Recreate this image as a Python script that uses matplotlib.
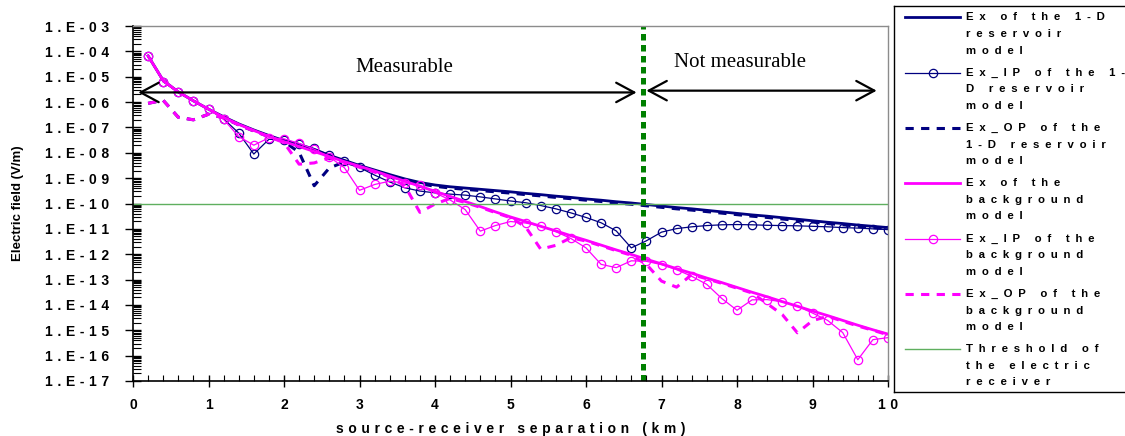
import matplotlib
matplotlib.use("Agg")
import matplotlib.pyplot as plt
import numpy as np
from matplotlib.ticker import FixedLocator, FuncFormatter, LogLocator, MultipleLocator

SANS = ["Liberation Sans", "DejaVu Sans"]
SERIF = ["Liberation Serif", "DejaVu Serif"]
plt.rcParams["font.family"] = SANS
plt.rcParams["font.weight"] = "bold"

# source-receiver offsets (km)
offset_km = [0.2, 0.4, 0.6, 0.8, 1.0, 1.2, 1.4, 1.6, 1.8, 2.0,
             2.2, 2.4, 2.6, 2.8, 3.0, 3.2, 3.4, 3.6, 3.8, 4.0,
             4.2, 4.4, 4.6, 4.8, 5.0, 5.2, 5.4, 5.6, 5.8, 6.0,
             6.2, 6.4, 6.6, 6.8, 7.0, 7.2, 7.4, 7.6, 7.8, 8.0,
             8.2, 8.4, 8.6, 8.8, 9.0, 9.2, 9.4, 9.6, 9.8, 10.0]

# log10 of |E| in V/m
ex_reservoir = [-4.18, -5.15, -5.6, -5.95, -6.28, -6.58, -6.86, -7.1, -7.32, -7.52,
                -7.72, -7.9, -8.1, -8.3, -8.5, -8.68, -8.86, -9.03, -9.17, -9.27,
                -9.34, -9.39, -9.44, -9.49, -9.54, -9.6, -9.65, -9.71, -9.76, -9.82,
                -9.87, -9.93, -9.98, -10.04, -10.1, -10.16, -10.21, -10.27, -10.33, -10.39,
                -10.45, -10.5, -10.56, -10.62, -10.68, -10.74, -10.79, -10.85, -10.9, -10.95]
ip_reservoir = [-4.18, -5.2, -5.62, -5.95, -6.28, -6.66, -7.22, -8.05, -7.47, -7.48,
                -7.64, -7.83, -8.07, -8.33, -8.58, -8.88, -9.15, -9.38, -9.51, -9.58,
                -9.63, -9.67, -9.74, -9.82, -9.9, -9.97, -10.08, -10.21, -10.37, -10.55,
                -10.76, -11.08, -11.75, -11.47, -11.13, -10.99, -10.92, -10.87, -10.84, -10.83,
                -10.84, -10.86, -10.87, -10.88, -10.9, -10.92, -10.95, -10.97, -11.0, -11.03]
op_reservoir = [-6.05, -5.93, -6.6, -6.7, -6.48, -6.62, -6.9, -7.14, -7.36, -7.56,
                -7.98, -9.3, -8.6, -8.36, -8.55, -8.73, -8.91, -9.08, -9.22, -9.32,
                -9.39, -9.44, -9.49, -9.54, -9.59, -9.65, -9.7, -9.76, -9.81, -9.87,
                -9.92, -9.98, -10.03, -10.09, -10.15, -10.21, -10.26, -10.32, -10.38, -10.44,
                -10.5, -10.55, -10.61, -10.67, -10.73, -10.79, -10.84, -10.9, -10.95, -11.0]
ex_background = [-4.18, -5.15, -5.6, -5.95, -6.28, -6.6, -6.88, -7.12, -7.35, -7.56,
                 -7.75, -7.95, -8.15, -8.35, -8.53, -8.72, -8.92, -9.12, -9.32, -9.52,
                 -9.72, -9.92, -10.12, -10.33, -10.53, -10.71, -10.9, -11.08, -11.27, -11.45,
                 -11.64, -11.83, -12.01, -12.2, -12.38, -12.57, -12.75, -12.94, -13.12, -13.31,
                 -13.5, -13.68, -13.87, -14.05, -14.24, -14.42, -14.61, -14.8, -14.98, -15.15]
ip_background = [-4.18, -5.2, -5.62, -5.95, -6.28, -6.68, -7.36, -7.7, -7.41, -7.45,
                 -7.63, -7.86, -8.16, -8.59, -9.48, -9.25, -9.12, -9.19, -9.28, -9.58,
                 -9.86, -10.24, -11.09, -10.87, -10.71, -10.77, -10.89, -11.11, -11.38, -11.75,
                 -12.4, -12.53, -12.26, -12.28, -12.41, -12.61, -12.87, -13.19, -13.75, -14.21,
                 -13.8, -13.79, -13.88, -14.05, -14.32, -14.61, -15.09, -16.16, -15.37, -15.29]
op_background = [-6.05, -5.93, -6.6, -6.7, -6.48, -6.62, -6.9, -7.14, -7.37, -7.6,
                 -8.45, -8.4, -8.2, -8.38, -8.57, -8.76, -8.96, -9.3, -10.35, -10.02,
                 -9.8, -9.96, -10.15, -10.36, -10.56, -10.92, -11.8, -11.65, -11.35, -11.48,
                 -11.67, -11.86, -12.04, -12.4, -13.06, -13.3, -12.8, -12.97, -13.15, -13.34,
                 -13.53, -13.95, -14.38, -15.1, -14.62, -14.45, -14.64, -14.83, -15.0, -15.18]

threshold = 1e-10          # receiver noise floor (V/m)
limit_km = 6.75            # offset where the reservoir response drops below it

NAVY = "#000080"
MAGENTA = "#FF00FF"
GREEN_T = "#5FAF5F"
TICK_SEP = "\u2004"
LEGEND_SEP = "\u2002"


def spaced(text, sep):
    return sep.join(text)


styles = {
    "ex_res": dict(color=NAVY, lw=2.0),
    "ip_res": dict(color=NAVY, lw=0.9, marker="o", ms=6, mfc="none", mew=0.9),
    "op_res": dict(color=NAVY, lw=2.2, ls=(0, (2.7, 2.4))),
    "ex_bg": dict(color=MAGENTA, lw=2.0),
    "ip_bg": dict(color=MAGENTA, lw=0.9, marker="o", ms=6, mfc="none", mew=0.9),
    "op_bg": dict(color=MAGENTA, lw=2.2, ls=(0, (2.7, 2.4))),
    "thr": dict(color=GREEN_T, lw=1.0),
}

series = [
    ("ex_res", ex_reservoir),
    ("ip_res", ip_reservoir),
    ("op_res", op_reservoir),
    ("ex_bg", ex_background),
    ("ip_bg", ip_background),
    ("op_bg", op_background),
]

fig = plt.figure(figsize=(11.25, 4.36), dpi=100)
ax = fig.add_axes([133 / 1125, 1 - 381 / 436, 755 / 1125, 355 / 436])

x = np.array(offset_km)
for key, vals in series:
    ax.plot(x, 10.0 ** np.array(vals), **styles[key])
ax.axhline(threshold, **styles["thr"])

ax.set_yscale("log")
ax.set_xlim(0, 10)
ax.set_ylim(1e-17, 1e-3)

# limit of measurability
ax.axvline(limit_km, color="#008000", lw=3.6, ls=(0, (1.3, 0.9)))
arrow = dict(arrowstyle="<->,head_length=1.3,head_width=0.7", lw=1.6,
             color="black", shrinkA=0, shrinkB=0)
ax.annotate("", xy=(0.07, 10 ** -5.62), xytext=(6.67, 10 ** -5.62), arrowprops=arrow)
ax.annotate("", xy=(6.8, 10 ** -5.55), xytext=(9.85, 10 ** -5.55), arrowprops=arrow)
ax.text(3.6, 10 ** -4.62, "Measurable", family=SERIF, weight="normal",
        fontsize=15, ha="center", va="center")
ax.text(8.04, 10 ** -4.42, "Not measurable", family=SERIF, weight="normal",
        fontsize=15, ha="center", va="center")

# axes styling
for side in ("left", "bottom"):
    ax.spines[side].set_color("black")
    ax.spines[side].set_linewidth(1.2)
for side in ("top", "right"):
    ax.spines[side].set_color("#8c8c8c")
    ax.spines[side].set_linewidth(1.0)

ax.yaxis.set_major_locator(FixedLocator(10.0 ** np.arange(-17, -2)))
ax.yaxis.set_minor_locator(LogLocator(base=10, subs=np.arange(2, 10), numticks=100))
ax.yaxis.set_major_formatter(FuncFormatter(
    lambda v, pos: spaced(f"1.E-{int(round(-np.log10(v))):02d}", TICK_SEP)))
ax.xaxis.set_major_locator(MultipleLocator(1))
ax.xaxis.set_minor_locator(MultipleLocator(0.2))
ax.xaxis.set_major_formatter(FuncFormatter(lambda v, pos: spaced(f"{v:.0f}", TICK_SEP)))

ax.tick_params(axis="y", which="major", direction="inout", length=12, width=1.0,
               pad=11, labelsize=10)
ax.tick_params(axis="y", which="minor", direction="in", length=6, width=0.8)
ax.tick_params(axis="x", which="major", direction="inout", length=8, width=1.0,
               pad=8, labelsize=10)
ax.tick_params(axis="x", which="minor", direction="in", length=4, width=0.8)
ax.tick_params(top=False, right=False, which="both")

ax.set_xlabel(spaced("source-receiver separation (km)", TICK_SEP),
              fontsize=10, fontweight="bold")
ax.xaxis.set_label_coords(0.5, -0.115)
ax.set_ylabel("Electric field (V/m)", fontsize=9.5, fontweight="bold")
ax.yaxis.set_label_coords(-0.144, 0.5)

# legend box, laid out in pixel units
lax = fig.add_axes([894 / 1125, 1 - 392 / 436, 236 / 1125, 386 / 436])
lax.set_xlim(0, 236)
lax.set_ylim(386, 0)
lax.set_xticks([])
lax.set_yticks([])
for sp in lax.spines.values():
    sp.set_color("black")
    sp.set_linewidth(1.0)

legend_entries = [
    ("ex_res", ["Ex of the 1-D", "reservoir", "model"]),
    ("ip_res", ["Ex_IP of the 1-", "D reservoir", "model"]),
    ("op_res", ["Ex_OP of the", "1-D reservoir", "model"]),
    ("ex_bg", ["Ex of the", "background", "model"]),
    ("ip_bg", ["Ex_IP of the", "background", "model"]),
    ("op_bg", ["Ex_OP of the", "background", "model"]),
    ("thr", ["Threshold of", "the electric", "receiver"]),
]
for i, (key, lines) in enumerate(legend_entries):
    y0 = 11.5 + 55.3 * i
    style = dict(styles[key])
    if "marker" in style:
        style["markevery"] = [1]
    lax.plot([11, 38.5, 66], [y0, y0, y0], **style)
    for j, line in enumerate(lines):
        lax.text(72, y0 + 16.5 * j, spaced(line, LEGEND_SEP), fontsize=8.2,
                 fontweight="bold", ha="left", va="center")

fig.savefig("out.png", dpi=100)
